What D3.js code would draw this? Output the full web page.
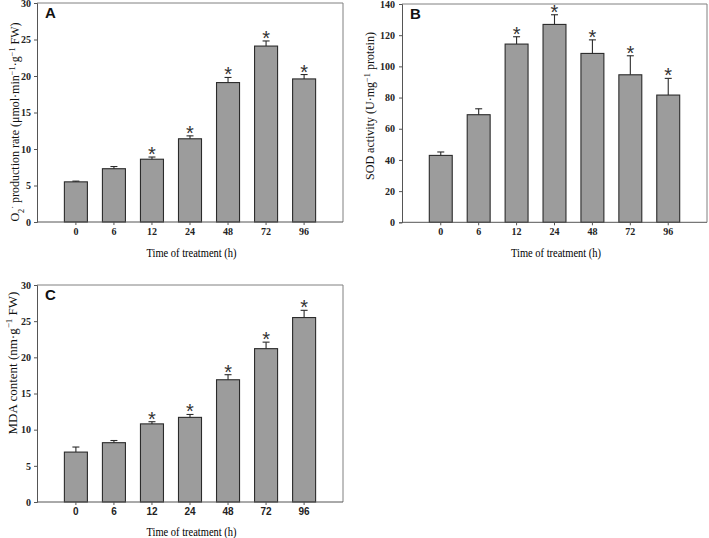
<!DOCTYPE html>
<html>
<head>
<meta charset="utf-8">
<script src="https://cdn.jsdelivr.net/npm/d3@7"></script>
<style>
  html, body { margin: 0; padding: 0; background: #fff; }
  svg { display: block; }
</style>
</head>
<body>
<script>
// ---- Data ----
const categories = ["0", "6", "12", "24", "48", "72", "96"];

const o2Mean = [5.5, 7.3, 8.6, 11.4, 19.1, 24.1, 19.6];
const o2Err  = [0.1, 0.3, 0.3, 0.4, 0.7, 0.7, 0.6];
const o2Sig  = [false, false, true, true, true, true, true];
const o2Ticks = [0, 5, 10, 15, 20, 25, 30];

const sodMean = [42.9, 69.0, 114.3, 126.9, 108.3, 94.6, 81.6];
const sodErr  = [2.2, 3.8, 4.7, 6.2, 8.7, 12.2, 10.7];
const sodSig  = [false, false, true, true, true, true, true];
const sodTicks = [0, 20, 40, 60, 80, 100, 120, 140];

const mdaMean = [6.9, 8.2, 10.8, 11.7, 16.9, 21.2, 25.5];
const mdaErr  = [0.7, 0.3, 0.3, 0.4, 0.7, 0.9, 1.0];
const mdaSig  = [false, false, true, true, true, true, true];
const mdaTicks = [0, 5, 10, 15, 20, 25, 30];

const xTitle = "Time of treatment (h)";

// ---- Drawing ----
const svg = d3.select("body").append("svg")
  .attr("width", 709).attr("height", 538);

function drawPanel(cfg) {
  const g = svg.append("g");
  const x = d3.scaleBand().domain(categories)
    .range([cfg.left, cfg.right]).paddingInner(0.395).paddingOuter(0.72);
  const y = d3.scaleLinear().domain([0, cfg.max]).range([cfg.bottom, cfg.top]);

  // frame top/right
  g.append("line").attr("x1", cfg.left).attr("x2", cfg.right)
    .attr("y1", cfg.top).attr("y2", cfg.top)
    .attr("stroke", "#808080").attr("stroke-width", 1);
  g.append("line").attr("x1", cfg.right).attr("x2", cfg.right)
    .attr("y1", cfg.top).attr("y2", cfg.bottom)
    .attr("stroke", "#808080").attr("stroke-width", 1);

  const data = categories.map((c, i) => ({c, v: cfg.mean[i], e: cfg.err[i], s: cfg.sig[i]}));

  // bars
  g.selectAll("rect.bar").data(data).join("rect")
    .attr("class", "bar")
    .attr("x", d => x(d.c))
    .attr("width", x.bandwidth())
    .attr("y", d => y(d.v))
    .attr("height", d => y(0) - y(d.v))
    .attr("fill", "#9c9c9c")
    .attr("stroke", "#2b2b2b")
    .attr("stroke-width", 1.1);

  // error bars (upper only)
  const cx = d => x(d.c) + x.bandwidth() / 2;
  g.selectAll("line.err").data(data).join("line")
    .attr("class", "err")
    .attr("x1", cx).attr("x2", cx)
    .attr("y1", d => y(d.v)).attr("y2", d => y(d.v + d.e))
    .attr("stroke", "#2b2b2b").attr("stroke-width", 1.1);
  g.selectAll("line.cap").data(data).join("line")
    .attr("class", "cap")
    .attr("x1", d => cx(d) - 3.5).attr("x2", d => cx(d) + 3.5)
    .attr("y1", d => y(d.v + d.e)).attr("y2", d => y(d.v + d.e))
    .attr("stroke", "#2b2b2b").attr("stroke-width", 1.1);

  // asterisks
  g.selectAll("text.star").data(data.filter(d => d.s)).join("text")
    .attr("class", "star")
    .attr("x", cx)
    .attr("y", d => y(d.v + d.e) + 4)
    .attr("text-anchor", "middle")
    .attr("font-family", "Liberation Sans, Arial, sans-serif")
    .attr("font-size", 20)
    .attr("fill", "#333")
    .text("*");

  // axes
  const ya = g.append("g").attr("transform", `translate(${cfg.left},0)`)
    .call(d3.axisLeft(y).tickValues(cfg.ticks).tickSize(3).tickPadding(cfg.yPad || 3));
  ya.select(".domain").attr("stroke", "#555");
  ya.selectAll(".tick line").attr("stroke", "#555");
  ya.selectAll("text")
    .attr("font-family", "Liberation Serif, Times New Roman, serif")
    .attr("font-size", 10).attr("font-weight", "bold").attr("fill", "#222");

  const xa = g.append("g").attr("transform", `translate(0,${cfg.bottom})`)
    .call(d3.axisBottom(x).tickSize(3).tickPadding(3));
  xa.select(".domain").attr("stroke", "#555")
    .attr("d", `M${cfg.left},0H${cfg.right}`);
  xa.selectAll(".tick line").attr("stroke", "#555");
  xa.selectAll("text")
    .attr("font-family", cfg.xFont)
    .attr("font-size", 10).attr("font-weight", "bold").attr("fill", "#222");

  // x title
  g.append("text")
    .attr("x", (cfg.left + cfg.right) / 2 + 1.5)
    .attr("y", cfg.xTitleY)
    .attr("text-anchor", "middle")
    .attr("font-family", "Liberation Serif, Times New Roman, serif")
    .attr("font-size", 12).attr("fill", "#000")
    .attr("textLength", 90).attr("lengthAdjust", "spacingAndGlyphs")
    .text(xTitle);

  // y title
  const yt = g.append("text")
    .attr("transform", `translate(${cfg.yTitleX},${cfg.yTitleY}) rotate(-90)`)
    .attr("text-anchor", "middle")
    .attr("font-family", "Liberation Serif, Times New Roman, serif")
    .attr("font-size", cfg.yTitleSize).attr("fill", "#111");
  cfg.yTitle(yt);

  // panel letter
  g.append("text")
    .attr("x", cfg.left + 8).attr("y", cfg.top + 15)
    .attr("font-family", "Liberation Sans, Arial, sans-serif")
    .attr("font-weight", "bold").attr("font-size", 15).attr("fill", "#111")
    .text(cfg.letter);
}

function sup(t, s) {
  t.append("tspan").attr("baseline-shift", "super").attr("font-size", "70%").text(s);
}
function sub(t, s) {
  t.append("tspan").attr("baseline-shift", "sub").attr("font-size", "70%").text(s);
}

drawPanel({
  left: 37, right: 343, top: 3, bottom: 222, max: 30,
  mean: o2Mean, err: o2Err, sig: o2Sig, ticks: o2Ticks, letter: "A",
  xFont: "Liberation Serif, Times New Roman, serif",
  xTitleY: 257, yTitleX: 19, yTitleY: 122, yTitleSize: 12,
  yTitle: t => {
    t.append("tspan").text("O");
    sub(t, "2");
    sup(t, "·");
    t.append("tspan").text(" production rate (μmol·min");
    sup(t, "−1");
    t.append("tspan").text("·g");
    sup(t, "−1");
    t.append("tspan").text(" FW)");
  }
});

drawPanel({
  left: 402, right: 707, top: 4, bottom: 222.3, max: 140,
  mean: sodMean, err: sodErr, sig: sodSig, ticks: sodTicks, letter: "B", yPad: 4,
  xFont: "Liberation Serif, Times New Roman, serif",
  xTitleY: 257, yTitleX: 374, yTitleY: 106, yTitleSize: 12,
  yTitle: t => {
    t.append("tspan").text("SOD activity (U·mg");
    sup(t, "−1");
    t.append("tspan").text(" protein)");
  }
});

drawPanel({
  left: 37, right: 343, top: 285, bottom: 502, max: 30,
  mean: mdaMean, err: mdaErr, sig: mdaSig, ticks: mdaTicks, letter: "C",
  xFont: "Liberation Sans, Arial, sans-serif",
  xTitleY: 536, yTitleX: 17, yTitleY: 363, yTitleSize: 13,
  yTitle: t => {
    t.append("tspan").text("MDA content (nm·g");
    sup(t, "−1");
    t.append("tspan").text(" FW)");
  }
});
</script>
</body>
</html>
